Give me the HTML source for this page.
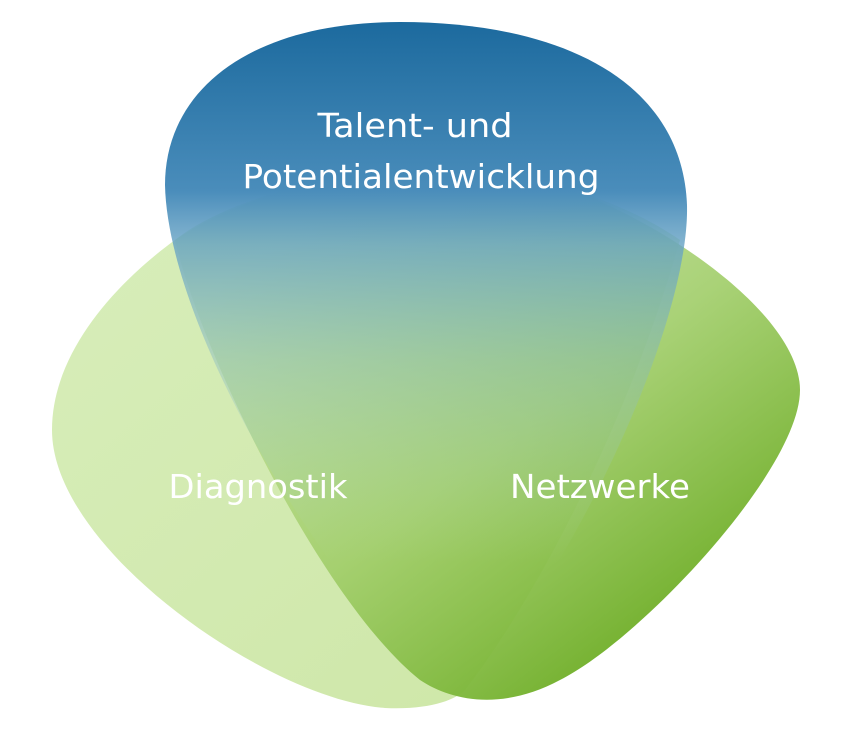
<!DOCTYPE html>
<html><head><meta charset="utf-8"><style>
html,body{margin:0;padding:0;background:#fff;}
svg{display:block;}
text{font-family:"DejaVu Sans","Liberation Sans",sans-serif;fill:#fff;font-size:33px;}
</style></head><body>
<svg width="847" height="738" viewBox="0 0 847 738" xmlns="http://www.w3.org/2000/svg">
<defs>
<linearGradient id="gl" x1="0" y1="0" x2="1" y2="1">
<stop offset="0" stop-color="#d8eebb"/><stop offset="1" stop-color="#cde6a6"/>
</linearGradient>
<linearGradient id="gr" x1="0.2" y1="0.1" x2="0.9" y2="0.9">
<stop offset="0" stop-color="#c9e5a6" stop-opacity="0.85"/>
<stop offset="0.5" stop-color="#a0cd68" stop-opacity="0.9"/>
<stop offset="1" stop-color="#66a81c"/>
</linearGradient>
<linearGradient id="gb" x1="0" y1="0" x2="0" y2="1">
<stop offset="0" stop-color="#1c6a9e"/>
<stop offset="0.25" stop-color="#4a8dbb"/>
<stop offset="0.33" stop-color="#66a2c4" stop-opacity="0.8"/>
<stop offset="0.5" stop-color="#7fb4c4" stop-opacity="0.4"/>
<stop offset="0.8" stop-color="#b9dcc0" stop-opacity="0"/>
</linearGradient>
</defs>
<path d="M175,240 C120,280 52,350 52,430 C52,550 270,700 385,708 C430,710 455,700 465,690 C520,620 620,450 680,240 C600,185 480,162 400,170 C300,180 220,205 175,240 Z" fill="url(#gl)"/>
<path d="M175,240 C250,190 380,160 470,165 C600,175 800,300 800,390 C800,470 640,640 560,680 C500,712 450,700 420,680 C320,600 200,350 175,240 Z" fill="url(#gr)"/>
<path d="M400,22 C250,22 165,90 165,185 C168,330 330,600 455,698 C560,600 690,330 687,205 C682,80 560,22 400,22 Z" fill="url(#gb)"/>
<text x="415" y="137" text-anchor="middle" textLength="195" lengthAdjust="spacingAndGlyphs">Talent- und</text>
<text x="421" y="188" text-anchor="middle" textLength="357" lengthAdjust="spacingAndGlyphs">Potentialentwicklung</text>
<text x="258" y="498" text-anchor="middle" textLength="179" lengthAdjust="spacingAndGlyphs">Diagnostik</text>
<text x="600" y="498" text-anchor="middle" textLength="180" lengthAdjust="spacingAndGlyphs">Netzwerke</text>
</svg>
</body></html>
